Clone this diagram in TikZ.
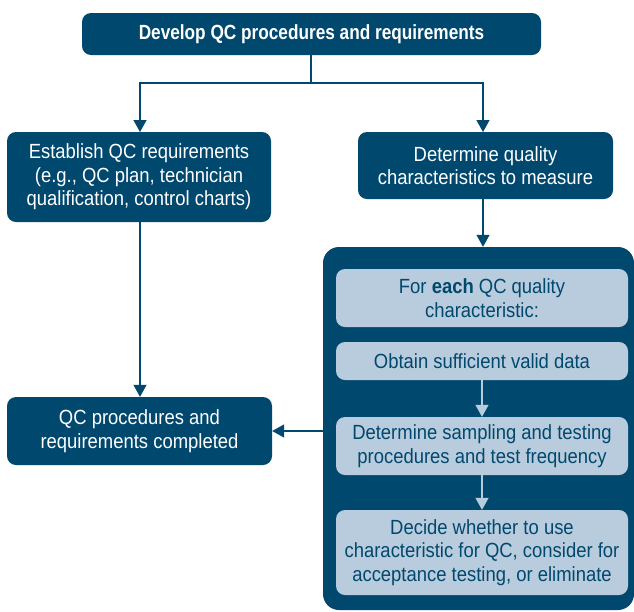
\documentclass[tikz,border=0pt]{standalone}
\usepackage{fontspec}
\setmainfont{Liberation Sans}[FakeStretch=0.9]
\newfontfamily\titlefont{Liberation Sans}[FakeStretch=0.84]
\usetikzlibrary{arrows.meta}
\definecolor{dkblue}{HTML}{00486D}
\definecolor{ltblue}{HTML}{B9CCDD}
\tikzset{
  darkbox/.style={fill=dkblue, draw=none, rounded corners=9pt, text=white, align=center, inner sep=0pt, font=\fontsize{20.5}{23.5}\selectfont},
  lightbox/.style={fill=ltblue, draw=none, rounded corners=9pt, text=dkblue, align=center, inner sep=0pt, font=\fontsize{20.5}{23.5}\selectfont},
  conn/.style={draw=dkblue, line width=1.4pt, -{Triangle[width=13pt,length=12pt]}},
  lconn/.style={draw=ltblue, line width=1.4pt, -{Triangle[width=13pt,length=12pt]}},
}
\begin{document}
\begin{tikzpicture}[x=1pt,y=-1pt]
\useasboundingbox (0,0) rectangle (634,611);
\node[darkbox, minimum width=459pt, minimum height=42pt, font=\titlefont\bfseries\fontsize{20.5}{23.5}\selectfont] (top) at (311.5,34) {Develop QC procedures and requirements};
\node[darkbox, minimum width=264pt, minimum height=90pt] (estab) at (139,177) {Establish QC requirements\\(e.g., QC plan, technician\\qualification, control charts)};
\node[darkbox, minimum width=255pt, minimum height=67pt] (detq) at (485.5,165.5) {Determine quality\\characteristics to measure};
\node[darkbox, minimum width=311pt, minimum height=363pt, rounded corners=16pt] (cont) at (478.5,428.5) {};
\node[darkbox, minimum width=265pt, minimum height=68pt] (done) at (139.5,431) {QC procedures and\\requirements completed};
\node[lightbox, minimum width=292pt, minimum height=58pt] (b1) at (482,298) {For \textbf{each} QC quality\\characteristic:};
\node[lightbox, minimum width=292pt, minimum height=38pt] (b2) at (482,361) {Obtain sufficient valid data};
\node[lightbox, minimum width=292pt, minimum height=58pt] (b3) at (482,446) {Determine sampling and testing\\procedures and test frequency};
\node[lightbox, minimum width=292pt, minimum height=85pt] (b4) at (482,552.5) {Decide whether to use\\characteristic for QC, consider for\\acceptance testing, or eliminate};
\coordinate (split) at (311,83);
\draw[draw=dkblue, line width=1.4pt] (top.south -| split) -- (split);
\draw[conn] (split) -| (140,132);
\draw[conn] (split) -| (483,132);
\draw[conn] (detq.south -| 483,0) -- (cont.north -| 483,0);
\draw[conn] (estab.south -| 140,0) -- (done.north -| 140,0);
\draw[conn] (cont.west |- done.east) -- (done.east);
\draw[lconn] (b2.south) -- (b3.north);
\draw[lconn] (b3.south) -- (b4.north);
\end{tikzpicture}
\end{document}
